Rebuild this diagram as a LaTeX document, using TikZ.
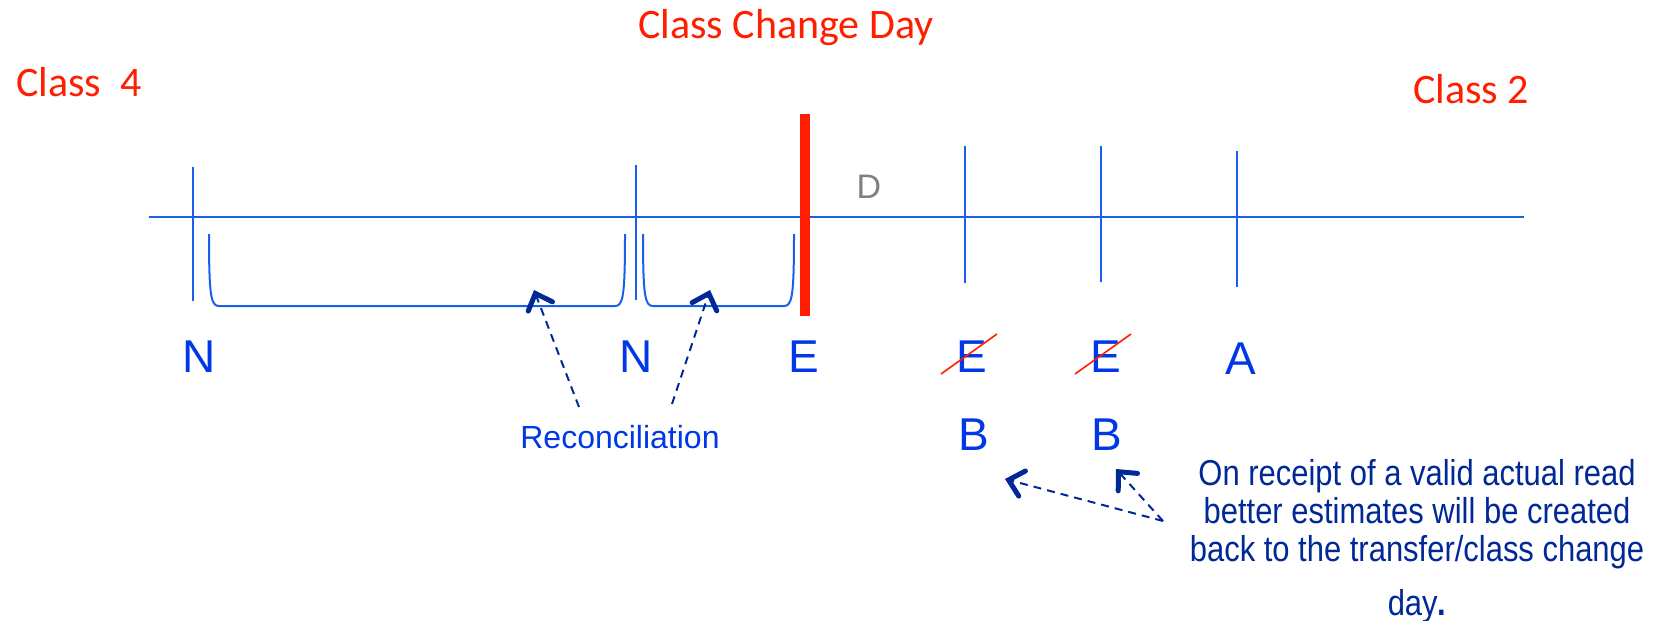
\documentclass[tikz,border=0pt]{standalone}
\usepackage{fontspec}
\setmainfont{Liberation Sans}
\newfontfamily\classfont{Carlito}
\newfontfamily\narrowfont[FakeStretch=0.86]{Liberation Sans}
\usetikzlibrary{arrows.meta, calc}
\definecolor{lineblue}{RGB}{25,95,235}
\definecolor{letterblue}{RGB}{0,55,230}
\definecolor{noteblue}{RGB}{0,40,150}
\definecolor{classred}{RGB}{255,30,0}
\tikzstyle{classlabel} = [
    text=classred,
    font=\classfont\fontsize{42}{50}\selectfont,
    inner sep=0pt,
    anchor=base
]
\tikzstyle{readlabel} = [
    text=letterblue,
    font=\fontsize{46}{55}\selectfont,
    inner sep=0pt,
    anchor=base
]
\tikzstyle{tick} = [draw=lineblue, line width=2pt]
\tikzstyle{bracket} = [draw=lineblue, line width=2pt]
\tikzstyle{strike} = [draw=classred, line width=1.6pt]
\tikzstyle{arrow} = [
    draw=noteblue,
    line width=2pt,
    dash pattern=on 8pt off 6pt,
    -{Straight Barb[length=14pt, width=26pt, line width=5pt, line cap=round]}
]

\begin{document}
\begin{tikzpicture}[x=1pt, y=-1pt]
\useasboundingbox (0,0) rectangle (1666,621);

\node (cday) [classlabel] at (786,38) {Class Change Day};
\node (cfour) [classlabel, anchor=base west] at (16,96) {Class\ \ 4};
\node (ctwo) [classlabel, anchor=base west] at (1413,103) {Class 2};

\coordinate (lstart) at (149,217);
\coordinate (lend) at (1524,217);
\draw [tick, line width=2.5pt] (lstart) -- (lend);

\draw [tick] (193,167) -- (193,301);
\draw [tick] (636,165) -- (636,300);
\draw [tick] (965,146) -- (965,283);
\draw [tick] (1101,146) -- (1101,282);
\draw [tick] (1237,151) -- (1237,287);

\draw [bracket] (209,234) .. controls (209,297) and (211,306) .. (219,306)
    -- (615,306) .. controls (623,306) and (625,297) .. (625,234);
\draw [bracket] (643,234) .. controls (643,297) and (645,306) .. (653,306)
    -- (784,306) .. controls (792,306) and (794,297) .. (794,234);

\draw [draw=classred, line width=10pt] (805,114) -- (805,316);

\node (dlabel) [readlabel, text=gray, font=\fontsize{34}{40}\selectfont] at (869,198) {D};

\node (n1) [readlabel] at (199,372) {N};
\node (n2) [readlabel] at (636,372) {N};
\node (e1) [readlabel] at (804,372) {E};
\node (e2) [readlabel] at (972,372) {E};
\node (e3) [readlabel] at (1106,372) {E};
\node (a1) [readlabel] at (1241,374) {A};
\node (b1) [readlabel] at (974,450) {B};
\node (b2) [readlabel] at (1107,450) {B};

\draw [strike] ($(e2.base)+(-31,2)$) -- ($(e2.base)+(25,-38)$);
\draw [strike] ($(e3.base)+(-31,2)$) -- ($(e3.base)+(25,-38)$);

\node (recon) [readlabel, font=\fontsize{32}{38}\selectfont] at (620,448) {Reconciliation};
\coordinate (rec1) at (579,407);
\coordinate (rec2) at (672,404);
\coordinate (tip1) at (534,290);
\coordinate (tip2) at (710,290);
\draw [arrow] (rec1) -- (tip1);
\draw [arrow] (rec2) -- (tip2);

\node (note) [text=noteblue, font=\narrowfont\fontsize{36}{38}\selectfont,
    align=center, inner sep=0pt, anchor=north] at (1417,459)
    {On receipt of a valid actual read\\better estimates will be created\\
     back to the transfer/class change\\[16pt]day\textbf{.}};
\coordinate (nstart) at (1163,521);
\coordinate (btip1) at (1005,479);
\coordinate (btip2) at (1116,469);
\draw [arrow] (nstart) -- (btip1);
\draw [arrow] (nstart) -- (btip2);

\end{tikzpicture}
\end{document}
